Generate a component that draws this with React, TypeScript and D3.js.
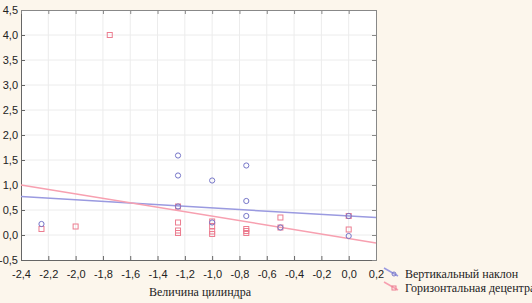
import { useEffect, useRef } from "react";
import * as d3 from "d3";

// blue circles - "Вертикальный наклон"
const verticalX = [-2.25, -1.25, -1.25, -1.25, -1.0, -1.0, -0.75, -0.75, -0.75, -0.5, 0.0, 0.0];
const verticalY = [0.22, 1.59, 1.19, 0.57, 1.09, 0.25, 1.39, 0.68, 0.38, 0.15, 0.38, -0.02];

// red squares - "Горизонтальная децентрация"
const horizX = [-2.25, -2.0, -1.75, -1.25, -1.25, -1.25, -1.25, -1.0, -1.0, -1.0, -1.0, -0.75, -0.75, -0.75, -0.5, -0.5, 0.0, 0.0];
const horizY = [0.12, 0.17, 4.0, 0.57, 0.25, 0.09, 0.04, 0.27, 0.18, 0.07, 0.02, 0.12, 0.08, 0.04, 0.35, 0.15, 0.38, 0.11];

// fitted lines: [intercept at x=0, slope]
const verticalFit = [0.38, -0.162];
const horizFit = [-0.07, -0.446];

const xTicks = [-2.4, -2.2, -2.0, -1.8, -1.6, -1.4, -1.2, -1.0, -0.8, -0.6, -0.4, -0.2, 0.0, 0.2];
const yTicks = [-0.5, 0.0, 0.5, 1.0, 1.5, 2.0, 2.5, 3.0, 3.5, 4.0, 4.5];
const legendLabels = ["Вертикальный наклон", "Горизонтальная децентрация"];
const xTitle = "Величина цилиндра";

const W = 532;
const H = 303;
const margin = { top: 10, right: 156, bottom: 43, left: 21 };

const BLUE = "#7676c8";
const RED = "#ec7d90";
const BLUE_LINE = "#9a9ae0";
const RED_LINE = "#f7a0b0";
const SERIF = '"Liberation Serif", "Times New Roman", "DejaVu Serif", serif';
const SANS = '"Liberation Sans", Arial, sans-serif';

const fmt = (v: number) => (Math.abs(v) < 1e-9 ? 0 : v).toFixed(1).replace(".", ",");

const App = () => {
  const svgRef = useRef<SVGSVGElement>(null);

  useEffect(() => {
    const svg = d3.select(svgRef.current);
    svg.selectAll("*").remove();

    const x = d3.scaleLinear().domain([-2.4, 0.2]).range([margin.left, W - margin.right]);
    const y = d3.scaleLinear().domain([-0.5, 4.5]).range([H - margin.bottom, margin.top]);

    // background
    svg.append("rect").attr("width", W).attr("height", H).attr("fill", "#fcf6ec");
    svg
      .append("rect")
      .attr("x", x(-2.4))
      .attr("y", y(4.5))
      .attr("width", x(0.2) - x(-2.4))
      .attr("height", y(-0.5) - y(4.5))
      .attr("fill", "#ffffff");

    // grid
    const grid = svg.append("g").attr("stroke", "#ececec").attr("stroke-width", 1);
    xTicks.slice(1, -1).forEach((t) => {
      grid.append("line").attr("x1", x(t)).attr("x2", x(t)).attr("y1", y(4.5)).attr("y2", y(-0.5));
    });
    yTicks.slice(1, -1).forEach((t) => {
      grid.append("line").attr("x1", x(-2.4)).attr("x2", x(0.2)).attr("y1", y(t)).attr("y2", y(t));
    });

    // axes
    const xAxis = d3.axisBottom(x).tickValues(xTicks).tickSize(-4).tickFormat((d) => fmt(d as number));
    const gx = svg.append("g").attr("transform", `translate(0, ${y(-0.5)})`).call(xAxis);
    gx.select(".domain").attr("stroke", "#666");
    gx.selectAll(".tick line").attr("stroke", "#666");
    gx.selectAll("text")
      .attr("y", 10)
      .attr("fill", "#222")
      .style("font-family", SANS)
      .style("font-size", "11px");

    const yAxis = d3.axisLeft(y).tickValues(yTicks).tickSize(-4).tickFormat((d) => fmt(d as number));
    const gy = svg.append("g").attr("transform", `translate(${x(-2.4)}, 0)`).call(yAxis);
    gy.select(".domain").attr("stroke", "#666");
    gy.selectAll(".tick line").attr("stroke", "#666");
    gy.selectAll("text")
      .attr("x", -3)
      .attr("fill", "#222")
      .style("font-family", SANS)
      .style("font-size", "11px");

    // top and right frame with small ticks
    const gt = svg
      .append("g")
      .attr("transform", `translate(0, ${y(4.5)})`)
      .call(d3.axisTop(x).tickValues(xTicks).tickSize(-4).tickFormat(() => ""));
    gt.select(".domain").attr("stroke", "#888");
    gt.selectAll(".tick line").attr("stroke", "#888");
    const gr = svg
      .append("g")
      .attr("transform", `translate(${x(0.2)}, 0)`)
      .call(d3.axisRight(y).tickValues(yTicks).tickSize(-4).tickFormat(() => ""));
    gr.select(".domain").attr("stroke", "#888");
    gr.selectAll(".tick line").attr("stroke", "#888");

    // fit lines
    const fitLine = (fit: number[]) =>
      d3
        .line<number>()
        .x((d) => x(d))
        .y((d) => y(fit[0] + fit[1] * d))([-2.4, 0.2]);

    svg
      .append("path")
      .attr("d", fitLine(verticalFit))
      .attr("fill", "none")
      .attr("stroke", BLUE_LINE)
      .attr("stroke-width", 1.5);
    svg
      .append("path")
      .attr("d", fitLine(horizFit))
      .attr("fill", "none")
      .attr("stroke", RED_LINE)
      .attr("stroke-width", 1.5);

    // red squares
    svg
      .append("g")
      .selectAll("rect")
      .data(horizX)
      .enter()
      .append("rect")
      .attr("x", (d) => x(d) - 2.5)
      .attr("y", (d, i) => y(horizY[i]) - 2.5)
      .attr("width", 5)
      .attr("height", 5)
      .attr("fill", "none")
      .attr("stroke", RED)
      .attr("stroke-width", 1);

    // blue circles
    svg
      .append("g")
      .selectAll("circle")
      .data(verticalX)
      .enter()
      .append("circle")
      .attr("cx", (d) => x(d))
      .attr("cy", (d, i) => y(verticalY[i]))
      .attr("r", 2.6)
      .attr("fill", "none")
      .attr("stroke", BLUE)
      .attr("stroke-width", 1);

    // x title
    svg
      .append("text")
      .attr("x", 200)
      .attr("y", 296)
      .attr("text-anchor", "middle")
      .attr("fill", "#222")
      .style("font-family", SERIF)
      .style("font-size", "12px")
      .text(xTitle);

    // legend
    const legend = svg.append("g");
    [BLUE, RED].forEach((c, i) => {
      const ly = 278 + i * 14;
      legend
        .append("line")
        .attr("x1", 384)
        .attr("y1", ly - 10)
        .attr("x2", 398)
        .attr("y2", ly - 2)
        .attr("stroke", i === 0 ? BLUE_LINE : RED_LINE)
        .attr("stroke-width", 1.5);
      if (i === 0) {
        legend.append("circle").attr("cx", 394).attr("cy", ly - 4).attr("r", 2).attr("fill", "none").attr("stroke", c);
      } else {
        legend.append("rect").attr("x", 392).attr("y", ly - 6).attr("width", 4).attr("height", 4).attr("fill", "none").attr("stroke", c);
      }
      legend
        .append("text")
        .attr("x", 405)
        .attr("y", ly)
        .attr("fill", "#222")
        .style("font-family", SERIF)
        .style("font-size", "12px")
        .text(legendLabels[i]);
    });
  }, []);

  return (
    <div style={{ position: "absolute", left: 0, top: 0 }}>
      <svg ref={svgRef} width={W} height={H} style={{ display: "block" }} />
    </div>
  );
};

export default App;
